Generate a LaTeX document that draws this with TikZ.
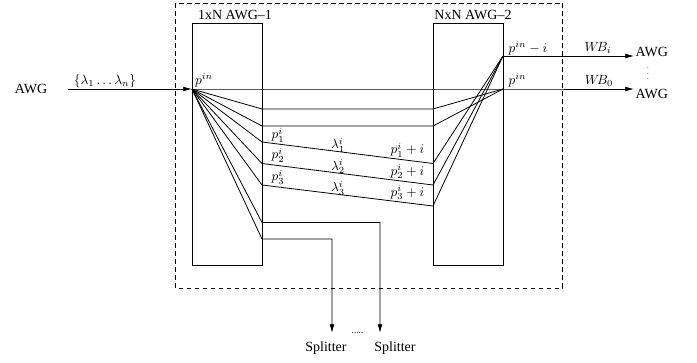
\documentclass[tikz,border=0pt]{standalone}
\usepackage{fontspec}
\setmainfont{Liberation Serif}
\usepackage{tikz}
\usetikzlibrary{arrows.meta, positioning}

\begin{document}
\begin{tikzpicture}[x=0.75pt, y=-0.75pt, line width=0.6pt,
  awgbox/.style={draw, rectangle, inner sep=0pt, minimum width=52.5pt, minimum height=181pt},
  arr/.style={-{Latex[length=6.5pt,width=3.6pt]}},
  lbl/.style={inner sep=1pt, font=\fontsize{10.5}{12}\selectfont},
  mlbl/.style={inner sep=0pt}]
\useasboundingbox (0,0) rectangle (697,362);
% Dashed frame round both AWGs
\draw[dash pattern=on 3.5pt off 2.5pt] (175.5,3) rectangle (562.5,288);
% AWG boxes
\node[awgbox] (awg1) at (227,144.5) {};
\node[awgbox] (awg2) at (468,144.5) {};
\node[lbl] (name1) at (235,15) {1xN AWG--1};
\node[lbl] (name2) at (473,15) {NxN AWG--2};
% ports
\coordinate (pin1) at (192,89);
\coordinate (pin2) at (503,89);
\coordinate (pout) at (503,56);
\coordinate (a1) at (262,109);
\coordinate (a2) at (262,126);
\coordinate (a3) at (262,142);
\coordinate (a4) at (262,163.5);
\coordinate (a5) at (262,185);
\coordinate (a6) at (262,222.5);
\coordinate (a7) at (262,239);
\coordinate (b1) at (433,109);
\coordinate (b2) at (433,126);
\coordinate (b3) at (433,163.5);
\coordinate (b4) at (433,185);
\coordinate (b5) at (433,206);
% Input side
\node[lbl] (awgin) at (31,89) {AWG};
\draw[arr] ([xshift=14pt]awgin.east) -- (pin1);
\node[mlbl] (lset) at (105,81) {$\{\lambda_1\ldots\lambda_n\}$};
\node[mlbl] (pinl) at (204,80) {$p^{in}$};
% Output side
\node[lbl, anchor=west] (awgi) at (634,52) {AWG};
\node[lbl, anchor=west] (awg0) at (634,94) {AWG};
\node[mlbl, font=\tiny] (vd) at (648,70) {$\vdots$};
\draw[arr] (pout) -- (pout -| awgi.west);
\draw[arr] (pin1) -- (pin2) -- (pin2 -| awg0.west);
\node[mlbl] (pinr) at (528,48) {$p^{in}-i$};
\node[mlbl] (pinr0) at (517.5,80) {$p^{in}$};
\node[mlbl] (wbi) at (598,48) {$W\!B_i$};
\node[mlbl] (wb0) at (599,81) {$W\!B_0$};
% Fan through the two AWGs
\draw (pin1) -- (a1) -- (b1) -- (pin2);
\draw (pin1) -- (a2) -- (b2) -- (pin2);
\draw (pin1) -- (a3) -- (b3) -- (pout);
\draw (pin1) -- (a4) -- (b4) -- (pout);
\draw (pin1) -- (a5) -- (b5) -- (pout);
\node[mlbl] (p1) at (278,135) {$p_1^i$};
\node[mlbl] (p2) at (278,155) {$p_2^i$};
\node[mlbl] (p3) at (278,177) {$p_3^i$};
\node[mlbl] (l1) at (338,145) {$\lambda_1^i$};
\node[mlbl] (l2) at (338,166.5) {$\lambda_2^i$};
\node[mlbl] (l3) at (338,188) {$\lambda_3^i$};
\node[mlbl] (q1) at (407.5,150) {$p_1^i+i$};
\node[mlbl] (q2) at (407.5,171.5) {$p_2^i+i$};
\node[mlbl] (q3) at (407.5,192.5) {$p_3^i+i$};
% To the splitters
\coordinate (s1) at (332,333);
\coordinate (s2) at (380,333);
\draw[arr] (pin1) -- (a7) -| (s1);
\draw[arr] (pin1) -- (a6) -| (s2);
\node[lbl] (sp1) at (326,348) {Splitter};
\node[lbl] (sp2) at (395,348) {Splitter};
\node[mlbl, font=\scriptsize] (sdots) at (357.5,333) {.....};
\end{tikzpicture}
\end{document}
